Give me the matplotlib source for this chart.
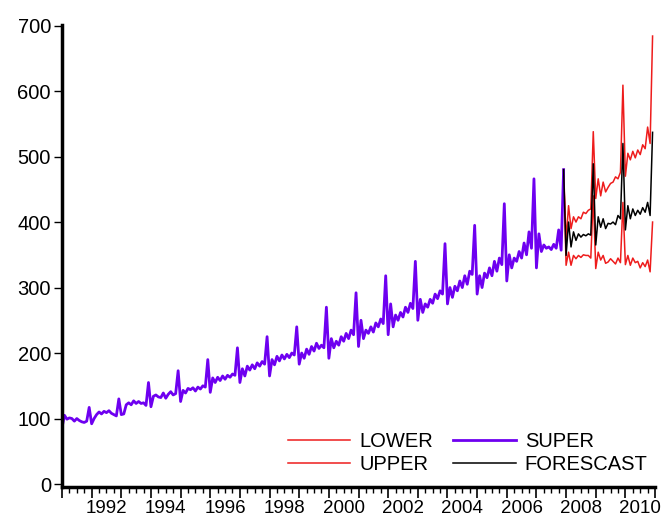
import numpy as np
import matplotlib
matplotlib.use("Agg")
from matplotlib import pyplot as plt, ticker

plt.rcParams['font.family'] = ['Liberation Sans', 'DejaVu Sans']

# monthly sales, 1991:01 - 2007:12 (one row per year)
super_values = [
    86, 105, 99, 101, 100, 96, 100, 97, 95, 94, 96, 117,
    92, 100, 106, 110, 107, 111, 109, 112, 108, 106, 104, 130,
    106, 107, 121, 124, 121, 127, 123, 126, 123, 124, 120, 155,
    118, 134, 136, 133, 132, 139, 131, 137, 141, 136, 138, 173,
    126, 143, 139, 146, 144, 147, 142, 148, 145, 150, 148, 190,
    140, 162, 155, 163, 158, 165, 160, 166, 163, 168, 166, 208,
    155, 176, 165, 180, 174, 182, 176, 185, 180, 187, 183, 225,
    165, 190, 182, 195, 188, 197, 191, 198, 193, 200, 197, 240,
    183, 200, 192, 206, 198, 210, 203, 215, 207, 212, 208, 270,
    192, 222, 208, 218, 212, 225, 218, 230, 222, 235, 228, 292,
    210, 250, 222, 235, 230, 240, 232, 246, 240, 252, 245, 318,
    228, 275, 240, 258, 250, 262, 255, 270, 262, 276, 268, 340,
    250, 282, 262, 275, 270, 282, 276, 290, 283, 295, 290, 367,
    275, 300, 285, 302, 295, 310, 300, 318, 305, 325, 320, 395,
    290, 318, 300, 322, 315, 330, 318, 340, 325, 345, 335, 428,
    310, 350, 330, 345, 340, 355, 345, 368, 350, 385, 360, 466,
    330, 382, 355, 365, 360, 362, 358, 366, 360, 388, 357, 480,
]

# forecast 2007:12 - 2010:12 with bands
forecast_values = [
    480,
    349, 400, 362, 385, 372, 382, 377, 381, 379, 382, 380, 489,
    365, 408, 392, 405, 390, 398, 397, 400, 396, 410, 405, 520,
    388, 425, 405, 420, 410, 418, 412, 422, 415, 430, 410, 537,
]
upper_values = [
    480,
    372, 425, 390, 408, 400, 408, 405, 415, 413, 418, 420, 538,
    436, 466, 440, 461, 446, 453, 459, 461, 469, 466, 476, 609,
    470, 505, 495, 508, 498, 510, 503, 518, 512, 545, 520, 684,
]
lower_values = [
    480,
    334, 354, 334, 349, 344, 349, 346, 350, 349, 349, 345, 440,
    329, 354, 342, 349, 337, 339, 344, 340, 336, 345, 338, 430,
    335, 349, 334, 345, 338, 340, 330, 338, 332, 342, 324, 400,
]

year_labels = ["1992", "1994", "1996", "1998", "2000",
               "2002", "2004", "2006", "2008", "2010"]

t_super = 1991 + np.arange(len(super_values)) / 12
t_fc = 2007 + 11 / 12 + np.arange(len(forecast_values)) / 12

fig = plt.figure(figsize=(6.63, 5.19), dpi=100)
ax = fig.add_axes([0.0935, 0.0617, 0.8945, 0.8903])

ax.plot(t_fc, lower_values, color="#EE1C1C", lw=1.1, label="LOWER")
ax.plot(t_fc, upper_values, color="#EE1C1C", lw=1.1, label="UPPER")
ax.plot(t_super, super_values, color="#6E00F0", lw=2.0, label="SUPER")
ax.plot(t_fc, forecast_values, color="black", lw=1.1, label="FORESCAST")

ax.set_xlim(1991, 2011)
ax.set_ylim(-4.5, 701)

for s in ["top", "right"]:
    ax.spines[s].set_visible(False)
for s in ["left", "bottom"]:
    ax.spines[s].set_linewidth(2.5)

ax.yaxis.set_major_locator(ticker.MultipleLocator(100))
ax.tick_params(axis="y", length=6, width=1, labelsize=14.5, pad=2)

# year ticks + quarter ticks, labels sit in the middle of the year
ax.xaxis.set_major_locator(ticker.MultipleLocator(1))
ax.xaxis.set_minor_locator(ticker.MultipleLocator(0.25))
ax.tick_params(axis="x", which="major", length=8, width=1.2, labelbottom=False)
ax.tick_params(axis="x", which="minor", length=4, width=1)
for lab in year_labels:
    ax.text(int(lab) + 0.5, -0.029, lab, transform=ax.get_xaxis_transform(),
            ha="center", va="top", fontsize=13.5)

ax.legend(ncol=2, loc="lower right", bbox_to_anchor=(1.018, -0.012),
          frameon=False, fontsize=14.5, handlelength=3.1, handletextpad=0.45,
          columnspacing=1.0, labelspacing=0.22)

fig.savefig("out.png", dpi=100)
plt.close()
